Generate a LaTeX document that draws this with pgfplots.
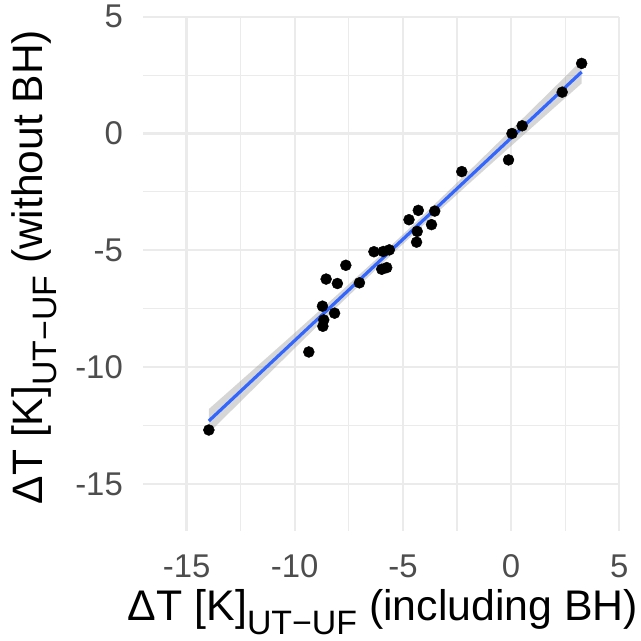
\documentclass[border=0pt]{standalone}
\usepackage{fontspec}
\setmainfont{Liberation Sans}
\usepackage{pgfplots}
\usepackage{pgfplotstable}
\pgfplotsset{compat=1.18}
\usepgfplotslibrary{fillbetween}

\definecolor{gridgray}{HTML}{EBEBEB}
\definecolor{ticktext}{HTML}{4D4D4D}
\definecolor{smoothblue}{HTML}{3366FF}
\definecolor{bandgray}{HTML}{999999}

% temperature differences: including BH (x) vs without BH (y)
\pgfplotstableread{
x y
3.26 3.00
2.36 1.77
0.51 0.33
0.04 0.00
-0.12 -1.13
-2.28 -1.63
-3.53 -3.32
-4.29 -3.29
-4.72 -3.69
-3.68 -3.90
-4.34 -4.19
-4.37 -4.65
-5.63 -4.98
-5.91 -5.05
-6.34 -5.06
-5.75 -5.74
-5.98 -5.81
-7.64 -5.64
-7.01 -6.39
-8.55 -6.23
-8.03 -6.42
-8.72 -7.39
-8.16 -7.69
-8.66 -7.98
-8.70 -8.25
-9.35 -9.35
-13.97 -12.69
}\pts

% linear fit with its 95% confidence band
\pgfplotstableread{
x lo hi
-13.97 -12.812 -11.792
-12 -11.011 -10.177
-10 -9.189 -8.531
-8 -7.380 -6.872
-6 -5.602 -5.182
-5.17 -4.878 -4.466
-4 -3.873 -3.443
-2 -2.189 -1.659
0 -0.533 0.153
2 1.111 1.977
3.26 2.143 3.129
}\band

\begin{document}
\begin{tikzpicture}
\begin{axis}[
  at={(143.3bp,110.3bp)}, anchor=south west,
  scale only axis, width=476bp, height=514bp,
  xmin=-17, xmax=5, ymin=-17, ymax=5,
  axis line style={draw=none},
  major tick length=0pt, minor tick length=0pt,
  xtick={-15,-10,-5,0,5}, xticklabels={-15,-10,-5,0,5},
  ytick={-15,-10,-5,0,5}, yticklabels={-15,-10,-5,0,5},
  minor xtick={-12.5,-7.5,-2.5,2.5},
  minor ytick={-12.5,-7.5,-2.5,2.5},
  grid=both,
  major grid style={gridgray, line width=2.2bp},
  minor grid style={gridgray, line width=1.1bp},
  xticklabel style={font=\fontsize{33}{33}\selectfont, text=ticktext,
    anchor=base, inner sep=0pt, yshift=-47.3bp},
  yticklabel style={font=\fontsize{33}{33}\selectfont, text=ticktext,
    anchor=east, inner sep=0pt, xshift=-20.3bp},
  clip=false,
]
\addplot[only marks, mark=*, mark size=5.5bp, black] table[x=x, y=y] {\pts};
\addplot[name path=upper, draw=none] table[x=x, y=hi] {\band};
\addplot[name path=lower, draw=none] table[x=x, y=lo] {\band};
\addplot[fill=bandgray, fill opacity=0.4, draw=none] fill between[of=upper and lower];
\addplot[smoothblue, line width=3.2bp] coordinates {(-13.97,-12.302) (3.26,2.636)};
\end{axis}
\node[anchor=base, inner sep=0pt, font=\fontsize{43}{43}\selectfont] at (383bp,21bp)
  {ΔT [K]\raisebox{-14bp}{\fontsize{34}{34}\selectfont UT−UF} (including BH)};
\node[anchor=base, inner sep=0pt, rotate=90, font=\fontsize{42.7}{42.7}\selectfont] at (42bp,374bp)
  {ΔT [K]\raisebox{-14bp}{\fontsize{34}{34}\selectfont UT−UF} (without BH)};
\pgfresetboundingbox
\path[use as bounding box] (0,0) rectangle (641bp,641bp);
\end{tikzpicture}
\end{document}
